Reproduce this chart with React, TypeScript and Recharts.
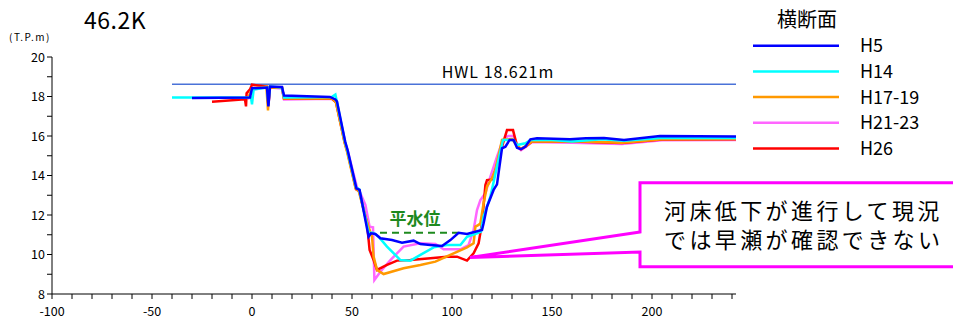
import { LineChart, Line, XAxis, YAxis, ReferenceLine } from "recharts";

// 横断面 (x: 距離 m, y: 標高 T.P.m)
const H5: [number, number][] = [
  [-30, 17.92], [-1, 17.95], [0, 18.42], [7.5, 18.45], [8.2, 17.5], [9, 18.5],
  [15, 18.48], [16, 18.05], [39, 17.98], [41.7, 17.85], [42.5, 17.75], [46.6, 15.71],
  [47.8, 15.29], [52.2, 13.35], [53.8, 13.27], [58.3, 10.9], [59.5, 11.07], [61.7, 11.04],
  [64.2, 10.82], [70, 10.73], [75, 10.6], [80.8, 10.7], [84.2, 10.53], [89.2, 10.48],
  [95, 10.43], [99.2, 10.73], [103.3, 11.1], [107.5, 11.04], [115, 11.24], [115.8, 11.58],
  [117.5, 12.42], [120.8, 13.27], [122.5, 13.55], [125, 15.38], [126.7, 15.46], [128.8, 15.8],
  [130.8, 15.8], [132.5, 15.41], [134.5, 15.33], [136.7, 15.46], [139.2, 15.83], [142.5, 15.88],
  [159, 15.83], [167, 15.88], [176, 15.9], [186, 15.8], [204, 16.0], [242, 15.98],
];

const H14: [number, number][] = [
  [-40, 17.95], [-0.5, 17.95], [0, 17.6], [0.8, 18.35], [7.5, 18.45], [8.2, 17.7], [9, 18.5],
  [15, 18.45], [16, 17.95], [40, 17.98], [41.7, 18.1], [42.3, 17.8], [46.4, 15.75],
  [47.6, 15.3], [52, 13.4], [53.6, 13.3], [58.3, 11.1], [60.5, 11.1], [63.3, 10.9],
  [67.5, 10.4], [74.2, 9.72], [79.2, 9.69], [84.2, 9.98], [90.8, 10.36], [97.5, 10.48],
  [104.2, 10.48], [107.5, 10.9], [112.5, 11.07], [114.5, 11.16], [115.8, 11.92], [119.2, 12.93],
  [122.5, 14.45], [125.5, 15.8], [130.8, 15.8], [132.5, 15.54], [136.7, 15.63], [139.2, 15.8],
  [150, 15.8], [160, 15.72], [175, 15.84], [186, 15.76], [204, 15.9], [242, 15.9],
];

const H17_19: [number, number][] = [
  [-2, 17.9], [0, 18.4], [7.2, 18.5], [8, 17.3], [8.8, 18.45], [15, 18.45], [16, 17.9],
  [40, 17.9], [42, 17.7], [46.2, 15.7], [47.4, 15.25], [51.8, 13.35], [53.4, 13.2],
  [56.7, 11.92], [58.8, 11.24], [60, 10.9], [60.8, 9.89], [62.5, 9.22], [65.8, 9.01],
  [75.8, 9.3], [84.2, 9.47], [91.7, 9.64], [100.8, 10.06], [107.5, 10.36], [110.8, 10.57],
  [111.7, 11.41], [113.3, 11.5], [114.2, 11.58], [115.8, 12.59], [117.5, 13.44], [120, 13.86],
  [121.7, 14.28], [125, 15.8], [130, 15.85], [132.5, 15.5], [134.5, 15.35], [137, 15.5],
  [140, 15.72], [160, 15.74], [185, 15.66], [205, 15.83], [242, 15.85],
];

const H21_23: [number, number][] = [
  [-2, 17.85], [0, 18.35], [7.5, 18.45], [8.2, 17.6], [9, 18.45], [15, 18.4], [16, 17.85],
  [40, 17.88], [42.2, 17.7], [46.8, 15.6], [48, 15.2], [52.5, 13.4], [54.2, 13.1],
  [56.7, 12.51], [58.8, 11.41], [60.5, 11.38], [61.2, 8.71], [64.2, 9.13], [69.2, 9.72],
  [75.8, 10.4], [84.2, 10.57], [91.7, 10.53], [95.8, 10.26], [104.2, 10.26], [108.3, 10.48],
  [110.8, 11.24], [112.5, 12.25], [114.2, 12.76], [116.7, 13.1], [119.2, 13.94], [122.5, 14.95],
  [125.5, 15.8], [128, 16.0], [131, 16.0], [133, 15.4], [134.5, 15.28], [137, 15.45],
  [140, 15.7], [160, 15.66], [185, 15.6], [205, 15.78], [242, 15.8],
];

const H26: [number, number][] = [
  [-20, 17.74], [-3.5, 17.86], [-3, 17.5], [-2.7, 18.16], [-1, 18.36], [0, 18.6], [7.5, 18.5],
  [8.2, 17.55], [9, 18.45], [15, 18.45], [16, 17.88], [40, 17.88], [42, 17.7], [46.4, 15.65],
  [47.6, 15.25], [52, 13.3], [53.6, 13.2], [57.5, 11.58], [58.8, 10.23], [60.8, 9.72],
  [62.5, 9.22], [67.5, 9.47], [72.5, 9.69], [79.2, 9.72], [89.2, 9.81], [97.5, 9.89],
  [102.5, 9.89], [107.5, 9.69], [110.8, 10.06], [113.3, 10.57], [115, 11.58], [116.7, 13.52],
  [117.5, 13.77], [120, 13.8], [121.7, 14.28], [125.5, 15.63], [127.5, 16.3], [130.5, 16.3],
  [132.5, 15.5], [134.5, 15.33], [137, 15.48], [140, 15.72], [160, 15.72], [185, 15.65],
  [205, 15.82], [242, 15.84],
];

const HWL_LEVEL = 18.621;
const HWL_RANGE = [-40, 242];
const LOW_WATER_LEVEL = 11.1;
const LOW_WATER_RANGE = [64, 103];

const X_TICKS = Array.from({ length: 35 }, (_, i) => -100 + i * 10);
const Y_TICKS = [8, 9, 10, 11, 12, 13, 14, 15, 16, 17, 18, 19, 20];

const SERIES = [
  { name: "H21-23", color: "#ff66ff", pts: H21_23 },
  { name: "H26", color: "#ff0000", pts: H26 },
  { name: "H17-19", color: "#ff9900", pts: H17_19 },
  { name: "H14", color: "#00ffff", pts: H14 },
  { name: "H5", color: "#0000ff", pts: H5 },
];
const LEGEND = ["H5", "H14", "H17-19", "H21-23", "H26"];

const FONT = "'Noto Sans CJK JP', sans-serif";

const toRows = (pts: [number, number][]) => pts.map(([x, y]) => ({ x, y }));

const XTick = (props: any) => {
  const { x, y, payload } = props;
  if (payload.value % 50 !== 0) return <g />;
  return (
    <text x={x} y={y} dy={14.5} textAnchor="middle" fontSize={12.5} fill="#000" fontFamily={FONT}>
      {payload.value}
    </text>
  );
};

const YTick = (props: any) => {
  const { x, y, payload } = props;
  if (payload.value % 2 !== 0) return <g />;
  return (
    <text x={x} y={y} dy={4.5} textAnchor="end" fontSize={12.5} fill="#000" fontFamily={FONT}>
      {payload.value}
    </text>
  );
};

export default function App() {
  const hwl = HWL_RANGE.map((x) => ({ x, y: HWL_LEVEL }));
  return (
    <div style={{ position: "absolute", left: 0, top: 0, width: 953, height: 321, overflow: "hidden", background: "#fff", fontFamily: FONT }}>
      <LineChart width={953} height={321} margin={{ top: 57, right: 217, bottom: 0, left: 0 }}>
        <XAxis
          dataKey="x"
          type="number"
          domain={[-100, 242]}
          ticks={X_TICKS}
          allowDataOverflow
          height={27}
          tickSize={5}
          stroke="#000"
          tick={<XTick />}
          interval={0}
        />
        <YAxis
          type="number"
          domain={[8, 20]}
          ticks={Y_TICKS}
          allowDataOverflow
          width={52}
          tickSize={5}
          stroke="#000"
          tick={<YTick />}
          interval={0}
        />
        <Line data={hwl} dataKey="y" stroke="#4a72d8" strokeWidth={1.5} dot={false} isAnimationActive={false} />
        <ReferenceLine
          segment={[
            { x: LOW_WATER_RANGE[0], y: LOW_WATER_LEVEL },
            { x: LOW_WATER_RANGE[1], y: LOW_WATER_LEVEL },
          ]}
          stroke="#1e8a1e"
          strokeWidth={2}
          strokeDasharray="7 5"
        />
        {SERIES.map((s) => (
          <Line
            key={s.name}
            data={toRows(s.pts)}
            dataKey="y"
            name={s.name}
            stroke={s.color}
            strokeWidth={2.5}
            dot={false}
            isAnimationActive={false}
          />
        ))}
      </LineChart>
      <svg width={953} height={321} style={{ position: "absolute", left: 0, top: 0, pointerEvents: "none" }}>
        <text x={84} y={29} fontSize={23} letterSpacing={0.5} fontFamily={FONT} fill="#000">46.2K</text>
        <text x={9} y={41} fontSize={10} letterSpacing={1.5} fontFamily={FONT} fill="#000">(T.P.m)</text>
        <text x={498} y={78} fontSize={16} letterSpacing={1} fontFamily={FONT} fill="#000" textAnchor="middle">HWL 18.621m</text>
        <text x={415} y={225} fontSize={17} fontWeight="bold" fontFamily={FONT} fill="#1e8a1e" textAnchor="middle">平水位</text>
        <text x={807} y={27} fontSize={20} fontFamily={FONT} fill="#000" textAnchor="middle">横断面</text>
        {LEGEND.map((name, i) => {
          const s = SERIES.find((d) => d.name === name)!;
          const y = 45.7 + i * 25.7;
          return (
            <g key={name}>
              <line x1={753} x2={839} y1={y} y2={y} stroke={s.color} strokeWidth={2.5} />
              <text x={860} y={y + 6.5} fontSize={18} fontFamily={FONT} fill="#000">{name}</text>
            </g>
          );
        })}
        <path
          d="M640,232 L470,257.5 L640,252 L640,266.7 L1000,266.7 L1000,182.7 L640,182.7 Z"
          fill="#fff"
          stroke="#ff00ff"
          strokeWidth={3}
        />
        <text x={664} y={219} fontSize={22} letterSpacing={3.4} fontFamily={FONT} fill="#000">河床低下が進行して現況</text>
        <text x={664} y={248} fontSize={22} letterSpacing={3.4} fontFamily={FONT} fill="#000">では早瀬が確認できない</text>
      </svg>
    </div>
  );
}
